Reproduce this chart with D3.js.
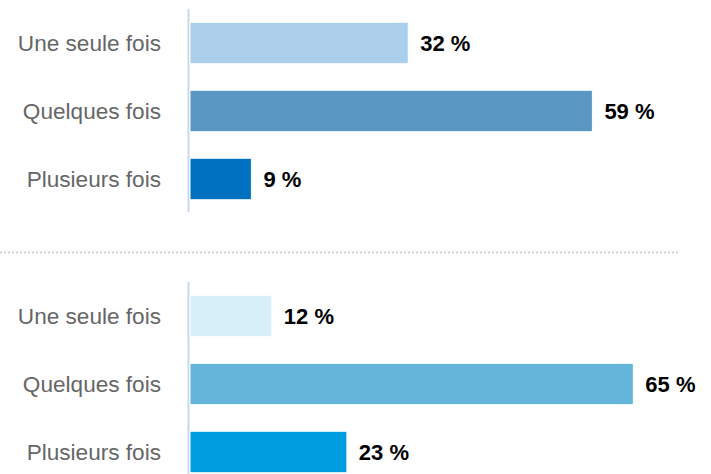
<!DOCTYPE html>
<html>
<head>
<meta charset="utf-8">
<script src="https://cdn.jsdelivr.net/npm/d3@7.9.0/dist/d3.min.js"></script>
<style>
  body { margin: 0; background: #fff; }
  svg { display: block; font-family: "Liberation Sans", Arial, sans-serif; }
</style>
</head>
<body>
<svg width="711" height="474"></svg>
<script>
const categories = ['Une seule fois', 'Quelques fois', 'Plusieurs fois'];
const valuesTop = [32, 59, 9];
const valuesBottom = [12, 65, 23];
const colorsTop = ['#abcfea', '#5996c2', '#0070c0'];
const colorsBottom = ['#d7eff9', '#64b5da', '#009de0'];

const svg = d3.select('svg');

const x = d3.scaleLinear().domain([0, 100]).range([190, 872]);

function drawGroup(values, colors, y0, y1) {
  const y = d3.scaleBand()
    .domain(categories)
    .range([y0, y1])
    .paddingInner(0.39)
    .paddingOuter(0.195);

  const g = svg.append('g');

  // axis line
  g.append('line')
    .attr('x1', 188.5).attr('x2', 188.5)
    .attr('y1', y0).attr('y2', y1 - 1)
    .attr('stroke', '#c9d7ec')
    .attr('stroke-width', 2);

  g.selectAll('rect')
    .data(values)
    .join('rect')
    .attr('x', x(0))
    .attr('y', (d, i) => y(categories[i]))
    .attr('width', d => x(d) - x(0))
    .attr('height', y.bandwidth())
    .attr('fill', (d, i) => colors[i])
    .attr('stroke', '#fff')
    .attr('stroke-width', 1);

  g.selectAll('.cat')
    .data(categories)
    .join('text')
    .attr('class', 'cat')
    .attr('x', 161)
    .attr('y', d => y(d) + y.bandwidth() / 2)
    .attr('dy', '0.36em')
    .attr('text-anchor', 'end')
    .attr('fill', '#666')
    .attr('font-size', 22.6)
    .text(d => d);

  g.selectAll('.val')
    .data(values)
    .join('text')
    .attr('class', 'val')
    .attr('x', d => x(d) + 12)
    .attr('y', (d, i) => y(categories[i]) + y.bandwidth() / 2)
    .attr('dy', '0.36em')
    .attr('fill', '#000')
    .attr('font-size', 22)
    .attr('font-weight', 'bold')
    .text(d => d + ' %');
}

drawGroup(valuesTop, colorsTop, 9, 213);

// dotted separator
svg.append('line')
  .attr('x1', 0).attr('x2', 678)
  .attr('y1', 252.5).attr('y2', 252.5)
  .attr('stroke', '#d3d3d3')
  .attr('stroke-width', 2)
  .attr('stroke-dasharray', '2,2');

drawGroup(valuesBottom, colorsBottom, 282, 486);
</script>
</body>
</html>
